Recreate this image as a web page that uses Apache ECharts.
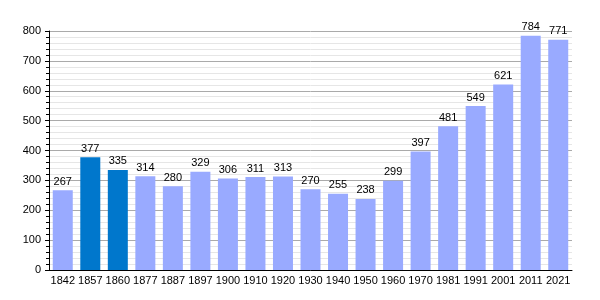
<!DOCTYPE html>
<html><head><meta charset="utf-8">
<script src="https://cdn.jsdelivr.net/npm/echarts@6/dist/echarts.min.js"></script>
<style>html,body{margin:0;padding:0;background:#fff}#c{width:600px;height:300px}</style>
</head><body><div id="c"></div>
<script>
const years = ['1842','1857','1860','1877','1887','1897','1900','1910','1920','1930','1940','1950','1960','1970','1981','1991','2001','2011','2021'];
const population = [267,377,335,314,280,329,306,311,313,270,255,238,299,397,481,549,621,784,771];
const highlighted = ['1857','1860'];
const yTicks = [0,100,200,300,400,500,600,700,800];

const chart = echarts.init(document.getElementById('c'));
chart.setOption({
  animation:false,
  grid:{left:49,right:28,top:31,bottom:30},
  xAxis:{type:'category',data:years,
    axisLine:{lineStyle:{color:'#000',width:1}},axisTick:{show:false},
    axisLabel:{color:'#000',fontSize:11,fontFamily:'Liberation Sans',margin:5,interval:0}},
  yAxis:{type:'value',min:yTicks[0],max:yTicks[yTicks.length-1],interval:100,
    axisLine:{show:true,lineStyle:{color:'#000'}},
    axisTick:{show:true,length:4,lineStyle:{color:'#000'}},
    minorTick:{show:true,splitNumber:5,length:3,lineStyle:{color:'#000'}},
    splitLine:{lineStyle:{color:'#aaa'}},
    minorSplitLine:{show:true,lineStyle:{color:'#e6e6e6'}},
    axisLabel:{color:'#000',fontSize:11,fontFamily:'Liberation Sans',margin:8}},
  series:[{type:'bar',barWidth:20,
    data:population.map((v,i)=>({value:v,itemStyle:{color:highlighted.includes(years[i])?'#0077cc':'#99aaff'}})),
    label:{show:true,position:'top',color:'#000',fontSize:11,fontFamily:'Liberation Sans',distance:3}}]
});
</script></body></html>
